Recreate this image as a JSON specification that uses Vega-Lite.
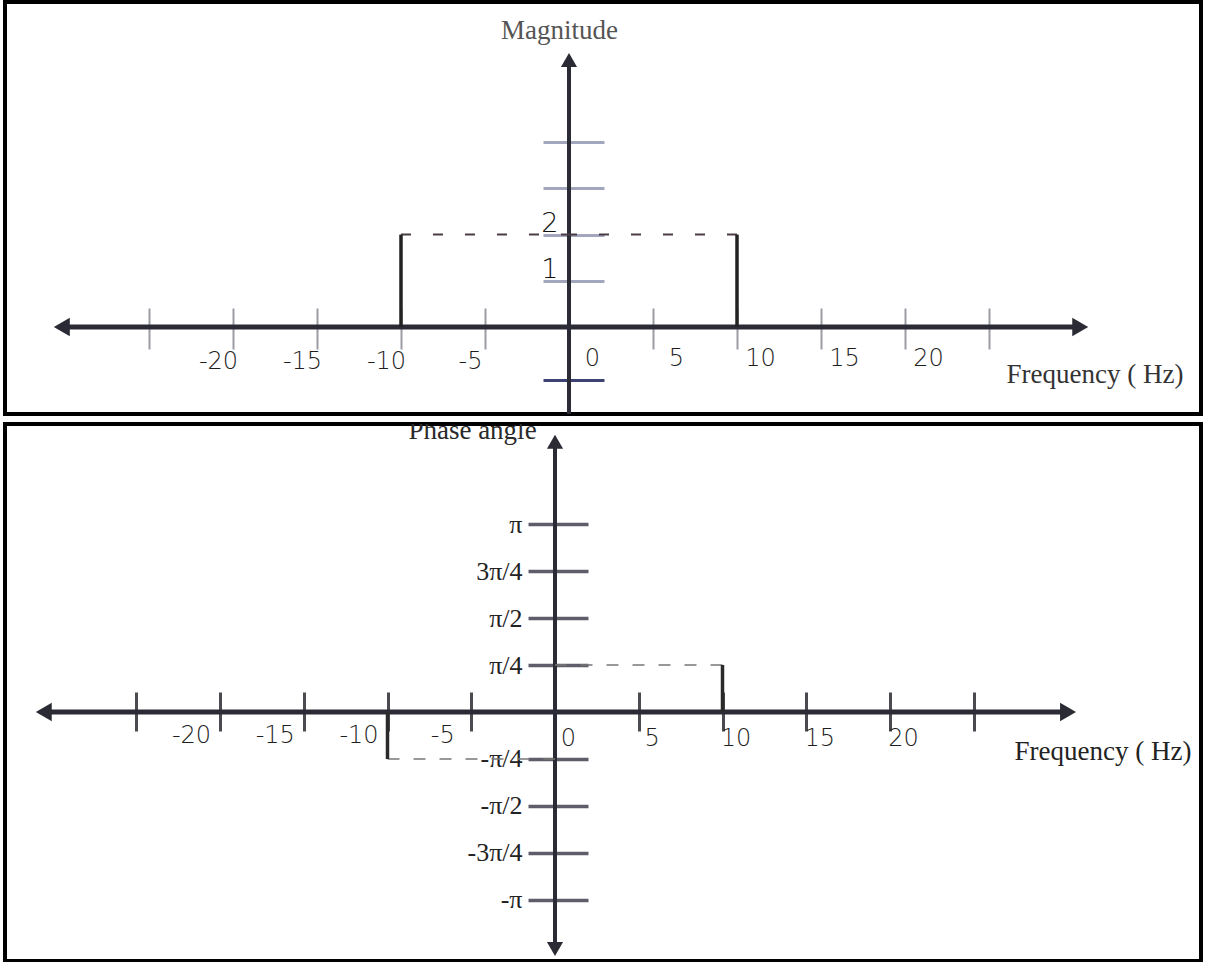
{
  "$schema": "https://vega.github.io/schema/vega-lite/v6.json",
  "background": "white",
  "padding": {"left": 3, "top": 0, "right": 10, "bottom": 0},
  "spacing": 4,
  "config": {
    "view": {"stroke": "#000000", "strokeWidth": 4},
    "axis": {"grid": false, "domain": false}
  },
  "datasets": {
    "magnitude": [
      {"freq": -10, "magnitude": 2},
      {"freq": 10, "magnitude": 2}
    ],
    "phase": [
      {"freq": -10, "phase": -0.785398},
      {"freq": 10, "phase": 0.785398}
    ]
  },
  "vconcat": [
    {
      "width": 1196,
      "height": 412,
      "data": {"name": "magnitude"},
      "resolve": {"axis": {"x": "independent", "y": "independent"}},
      "layer": [
        {
          "data": {"values": [{}]},
          "mark": {"type": "rule", "color": "#2b2b35", "strokeWidth": 5},
          "encoding": {
            "x": {"datum": -30.19, "type": "quantitative", "scale": {"domain": [-33.571, 37.619], "nice": false, "zero": false}, "axis": null},
            "x2": {"datum": 30.43},
            "y": {"datum": 0, "type": "quantitative", "scale": {"domain": [-1.8831, 7.0346], "nice": false, "zero": false}, "axis": null}
          }
        },
        {
          "data": {"values": [{}]},
          "mark": {"type": "rule", "color": "#2b2b35", "strokeWidth": 4},
          "encoding": {
            "x": {"datum": 0, "type": "quantitative", "axis": null},
            "y": {"datum": -1.8831, "type": "quantitative", "axis": null},
            "y2": {"datum": 5.78}
          }
        },
        {
          "data": {"values": [{}]},
          "mark": {"type": "point", "shape": "triangle-left", "filled": true, "size": 340, "color": "#2b2b35", "opacity": 1},
          "encoding": {
            "x": {"datum": -30.19, "type": "quantitative", "axis": null},
            "y": {"datum": 0, "type": "quantitative", "axis": null}
          }
        },
        {
          "data": {"values": [{}]},
          "mark": {"type": "point", "shape": "triangle-right", "filled": true, "size": 340, "color": "#2b2b35", "opacity": 1},
          "encoding": {
            "x": {"datum": 30.43, "type": "quantitative", "axis": null},
            "y": {"datum": 0, "type": "quantitative", "axis": null}
          }
        },
        {
          "data": {"values": [{}]},
          "mark": {"type": "point", "shape": "triangle-up", "filled": true, "size": 260, "color": "#2b2b35", "opacity": 1},
          "encoding": {
            "x": {"datum": 0, "type": "quantitative", "axis": null},
            "y": {"datum": 5.78, "type": "quantitative", "axis": null}
          }
        },
        {
          "mark": {"type": "rule", "color": "#4a3c44", "strokeWidth": 2, "strokeDash": [10, 22]},
          "encoding": {
            "x": {
              "field": "freq",
              "type": "quantitative",
              "axis": {
                "orient": "bottom",
                "offset": -106,
                "values": [-25, -20, -15, -10, -5],
                "domain": false,
                "grid": false,
                "ticks": true,
                "tickSize": 41,
                "tickWidth": 2,
                "tickColor": "#9c9ca4",
                "labelExpr": "abs(datum.value) == 25 ? '' : '' + datum.value",
                "labelFont": "DejaVu Sans",
                "labelFontWeight": 200,
                "labelFontSize": 24,
                "labelColor": "#1e1e1e",
                "labelPadding": 0,
                "labelBaseline": "top",
                "labelAlign": "center",
                "labelOverlap": false,
                "labelFlush": false,
                "labelOffset": -15,
                "title": null
              }
            },
            "x2": {"datum": 0},
            "y": {"field": "magnitude", "type": "quantitative", "axis": null}
          }
        },
        {
          "mark": {"type": "rule", "color": "#222222", "strokeWidth": 3.5},
          "encoding": {
            "x": {
              "field": "freq",
              "type": "quantitative",
              "scale": {"domain": [-33.571, 37.619], "nice": false, "zero": false},
              "axis": {
                "orient": "bottom",
                "offset": -106,
                "values": [0, 5, 10, 15, 20, 25],
                "domain": false,
                "grid": false,
                "ticks": true,
                "tickSize": 41,
                "tickWidth": 2,
                "tickColor": "#9c9ca4",
                "labelExpr": "abs(datum.value) == 25 ? '' : '' + datum.value",
                "labelFont": "DejaVu Sans",
                "labelFontWeight": 200,
                "labelFontSize": 24,
                "labelColor": "#1e1e1e",
                "labelPadding": -3,
                "labelBaseline": "top",
                "labelAlign": "center",
                "labelOverlap": false,
                "labelFlush": false,
                "labelOffset": 23,
                "title": "Frequency ( Hz)",
                "titleFont": "Liberation Serif",
                "titleFontSize": 27,
                "titleFontWeight": "normal",
                "titleColor": "#333333",
                "titleX": 1178,
                "titleY": 74,
                "titleAlign": "right",
                "titleBaseline": "alphabetic"
              }
            },
            "y": {
              "field": "magnitude",
              "type": "quantitative",
              "scale": {"domain": [-1.8831, 7.0346], "nice": false, "zero": false},
              "axis": {
                "orient": "left",
                "offset": -599,
                "values": [-1.15, 1, 2, 3, 4],
                "domain": false,
                "grid": false,
                "ticks": true,
                "tickSize": 61,
                "tickWidth": 3,
                "tickColor": {"condition": {"test": "datum.value < 0", "value": "#3c4372"}, "value": "#a3a7bd"},
                "labelExpr": "datum.value == 1 ? '1' : datum.value == 2 ? '2' : ''",
                "labelFont": "DejaVu Sans",
                "labelFontWeight": 200,
                "labelFontSize": 27,
                "labelColor": "#111111",
                "labelPadding": -15,
                "labelOffset": -11,
                "labelOverlap": false,
                "labelFlush": false,
                "title": "Magnitude",
                "titleFont": "Liberation Serif",
                "titleFontSize": 27,
                "titleFontWeight": "normal",
                "titleColor": "#555555",
                "titleAngle": 0,
                "titleX": -45,
                "titleY": 36,
                "titleAlign": "center",
                "titleBaseline": "alphabetic"
              }
            },
            "y2": {"datum": 0}
          }
        }
      ]
    },
    {
      "width": 1196,
      "height": 537,
      "data": {"name": "phase"},
      "resolve": {"axis": {"x": "independent", "y": "independent"}},
      "layer": [
        {
          "data": {"values": [{}]},
          "mark": {"type": "rule", "color": "#2b2b35", "strokeWidth": 5},
          "encoding": {
            "x": {"datum": -30.52, "type": "quantitative", "scale": {"domain": [-32.836, 38.567], "nice": false, "zero": false}, "axis": null},
            "x2": {"datum": 30.63},
            "y": {"datum": 0, "type": "quantitative", "scale": {"domain": [-4.1611, 4.8128], "nice": false, "zero": false}, "axis": null}
          }
        },
        {
          "data": {"values": [{}]},
          "mark": {"type": "rule", "color": "#2b2b35", "strokeWidth": 4},
          "encoding": {
            "x": {"datum": 0, "type": "quantitative", "axis": null},
            "y": {"datum": -3.96, "type": "quantitative", "axis": null},
            "y2": {"datum": 4.515}
          }
        },
        {
          "data": {"values": [{}]},
          "mark": {"type": "point", "shape": "triangle-left", "filled": true, "size": 340, "color": "#2b2b35", "opacity": 1},
          "encoding": {
            "x": {"datum": -30.52, "type": "quantitative", "axis": null},
            "y": {"datum": 0, "type": "quantitative", "axis": null}
          }
        },
        {
          "data": {"values": [{}]},
          "mark": {"type": "point", "shape": "triangle-right", "filled": true, "size": 340, "color": "#2b2b35", "opacity": 1},
          "encoding": {
            "x": {"datum": 30.63, "type": "quantitative", "axis": null},
            "y": {"datum": 0, "type": "quantitative", "axis": null}
          }
        },
        {
          "data": {"values": [{}]},
          "mark": {"type": "point", "shape": "triangle-up", "filled": true, "size": 260, "color": "#2b2b35", "opacity": 1},
          "encoding": {
            "x": {"datum": 0, "type": "quantitative", "axis": null},
            "y": {"datum": 4.515, "type": "quantitative", "axis": null}
          }
        },
        {
          "data": {"values": [{}]},
          "mark": {"type": "point", "shape": "triangle-down", "filled": true, "size": 260, "color": "#2b2b35", "opacity": 1},
          "encoding": {
            "x": {"datum": 0, "type": "quantitative", "axis": null},
            "y": {"datum": -3.96, "type": "quantitative", "axis": null}
          }
        },
        {
          "data": {"values": [{}]},
          "mark": {"type": "text", "clip": true, "font": "Liberation Serif", "fontSize": 27, "color": "#2a2a2a", "align": "center", "baseline": "alphabetic", "text": "Phase angle"},
          "encoding": {
            "x": {"datum": -4.925, "type": "quantitative", "axis": null},
            "y": {"datum": 4.562, "type": "quantitative", "axis": null}
          }
        },
        {
          "mark": {"type": "rule", "color": "#777777", "strokeWidth": 1.5, "strokeDash": [12, 14]},
          "encoding": {
            "x": {
              "field": "freq",
              "type": "quantitative",
              "axis": {
                "orient": "bottom",
                "offset": -269,
                "values": [-25, -20, -15, -10, -5],
                "domain": false,
                "grid": false,
                "ticks": true,
                "tickSize": 39,
                "tickWidth": 3,
                "tickColor": "#4a4a50",
                "labelExpr": "abs(datum.value) == 25 ? '' : '' + datum.value",
                "labelFont": "DejaVu Sans",
                "labelFontWeight": 200,
                "labelFontSize": 24,
                "labelColor": "#1e1e1e",
                "labelPadding": -8,
                "labelBaseline": "top",
                "labelAlign": "center",
                "labelOverlap": false,
                "labelFlush": false,
                "labelOffset": -29,
                "title": null
              }
            },
            "x2": {"datum": 0},
            "y": {"field": "phase", "type": "quantitative", "axis": null}
          }
        },
        {
          "mark": {"type": "rule", "color": "#2a2a2a", "strokeWidth": 3.5},
          "encoding": {
            "x": {
              "field": "freq",
              "type": "quantitative",
              "scale": {"domain": [-32.836, 38.567], "nice": false, "zero": false},
              "axis": {
                "orient": "bottom",
                "offset": -269,
                "values": [0, 5, 10, 15, 20, 25],
                "domain": false,
                "grid": false,
                "ticks": true,
                "tickSize": 39,
                "tickWidth": 3,
                "tickColor": "#4a4a50",
                "labelExpr": "abs(datum.value) == 25 ? '' : '' + datum.value",
                "labelFont": "DejaVu Sans",
                "labelFontWeight": 200,
                "labelFontSize": 24,
                "labelColor": "#1e1e1e",
                "labelPadding": -5,
                "labelBaseline": "top",
                "labelAlign": "center",
                "labelOverlap": false,
                "labelFlush": false,
                "labelOffset": 13,
                "title": "Frequency ( Hz)",
                "titleFont": "Liberation Serif",
                "titleFontSize": 27,
                "titleFontWeight": "normal",
                "titleColor": "#222222",
                "titleX": 1186,
                "titleY": 67,
                "titleAlign": "right",
                "titleBaseline": "alphabetic"
              }
            },
            "y": {
              "field": "phase",
              "type": "quantitative",
              "scale": {"domain": [-4.1611, 4.8128], "nice": false, "zero": false},
              "axis": {
                "orient": "left",
                "offset": -583,
                "values": [-3.14159265, -2.35619449, -1.57079633, -0.78539816, 0.78539816, 1.57079633, 2.35619449, 3.14159265],
                "domain": false,
                "grid": false,
                "ticks": true,
                "tickSize": 60,
                "tickWidth": 3.5,
                "tickColor": "#5e5e6a",
                "labelExpr": "datum.value > 3 ? 'π' : datum.value > 2 ? '3π/4' : datum.value > 1 ? 'π/2' : datum.value > 0 ? 'π/4' : datum.value > -1 ? '-π/4' : datum.value > -2 ? '-π/2' : datum.value > -3 ? '-3π/4' : '-π'",
                "labelFont": "Liberation Serif",
                "labelFontSize": 26,
                "labelColor": "#222222",
                "labelPadding": 6,
                "labelOverlap": false,
                "labelFlush": false,
                "title": null
              }
            },
            "y2": {"datum": 0}
          }
        }
      ]
    }
  ]
}
